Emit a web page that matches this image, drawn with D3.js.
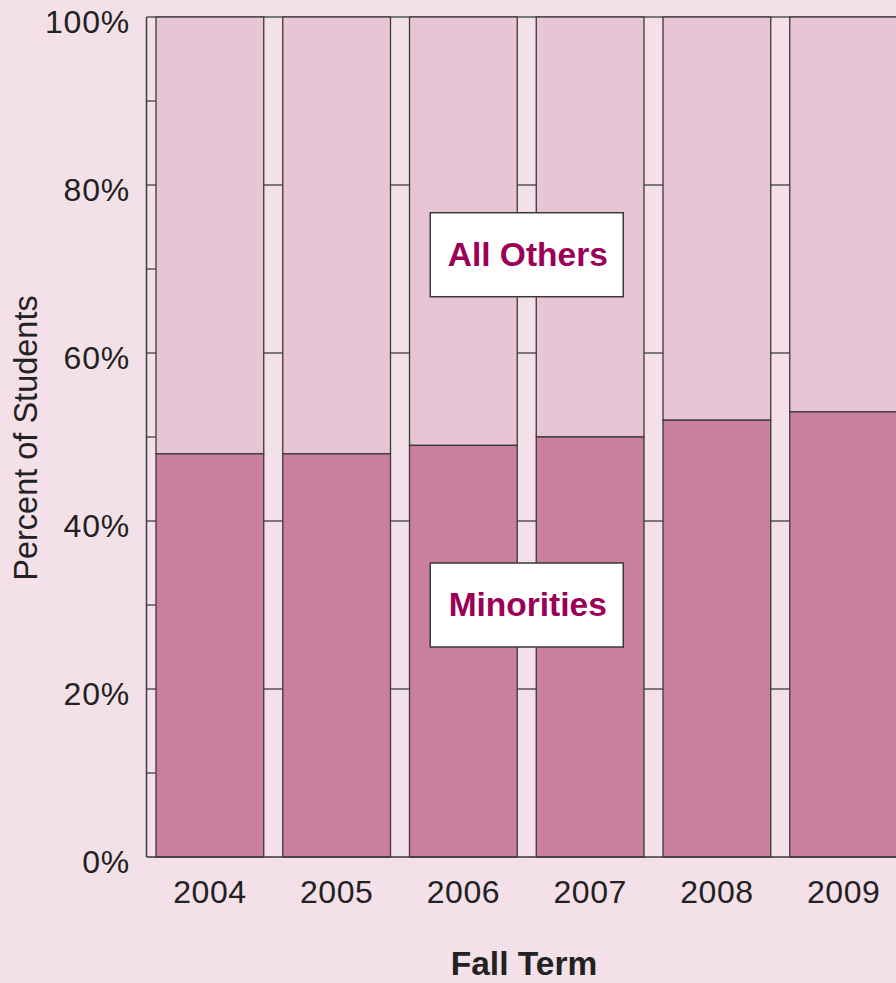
<!DOCTYPE html>
<html>
<head>
<meta charset="utf-8">
<script src="https://cdn.jsdelivr.net/npm/d3@7"></script>
<style>
  html, body { margin: 0; padding: 0; background: #F3E0E9; overflow: hidden; }
  svg { display: block; }
  text { font-family: "Liberation Sans", Arial, Helvetica, sans-serif; }
</style>
</head>
<body>
<svg id="chart" width="896" height="983"></svg>
<script>
const years = ["2004", "2005", "2006", "2007", "2008", "2009"];
const minorities = [48, 48, 49, 50, 52, 53];
const allOthers = minorities.map(v => 100 - v);
const majorTicks = [0, 20, 40, 60, 80, 100];
const minorTicks = [10, 30, 50, 70, 90];
const seriesNames = ["Minorities", "All Others"];

(function () {
const W = 896, H = 983;
const svg = d3.select("#chart");
const bg = "#F3E0E9";
const lightFill = "#E8C5D4";
const darkFill = "#C97F9D";
const lineCol = "#3a3a3a";
const labelCol = "#9B0058";

svg.append("rect").attr("width", W).attr("height", H).attr("fill", bg);

const plotLeft = 146.5, plotTop = 17, plotBottom = 857;
const x = d3.scaleBand().domain(years).range([plotLeft, 907]).paddingInner(0.15).paddingOuter(0.075);
const y = d3.scaleLinear().domain([0, 100]).range([plotBottom, plotTop]);

// gridlines (behind bars)
svg.append("g").selectAll("line").data(majorTicks.filter(d => d > 0)).join("line")
  .attr("x1", plotLeft).attr("x2", W + 20)
  .attr("y1", d => y(d)).attr("y2", d => y(d))
  .attr("stroke", "#555").attr("stroke-width", 1.5);

// minor ticks on the axis
svg.append("g").selectAll("line").data(minorTicks).join("line")
  .attr("x1", plotLeft).attr("x2", plotLeft + 9)
  .attr("y1", d => y(d)).attr("y2", d => y(d))
  .attr("stroke", "#555").attr("stroke-width", 1.5);

const data = years.map((yr, i) => ({ yr, m: minorities[i], o: allOthers[i] }));

const bars = svg.append("g");
bars.selectAll("rect.o").data(data).join("rect").attr("class", "o")
  .attr("x", d => x(d.yr)).attr("width", x.bandwidth())
  .attr("y", d => y(d.m + d.o)).attr("height", d => y(d.m) - y(d.m + d.o))
  .attr("fill", lightFill).attr("stroke", lineCol).attr("stroke-width", 1.3);
bars.selectAll("rect.m").data(data).join("rect").attr("class", "m")
  .attr("x", d => x(d.yr)).attr("width", x.bandwidth())
  .attr("y", d => y(d.m)).attr("height", d => y(0) - y(d.m))
  .attr("fill", darkFill).attr("stroke", lineCol).attr("stroke-width", 1.3);

// axis lines
svg.append("line").attr("x1", plotLeft).attr("x2", plotLeft).attr("y1", plotTop).attr("y2", plotBottom)
  .attr("stroke", lineCol).attr("stroke-width", 1.5);
svg.append("line").attr("x1", plotLeft).attr("x2", W + 20).attr("y1", plotBottom).attr("y2", plotBottom)
  .attr("stroke", lineCol).attr("stroke-width", 1.5);

// y tick labels
svg.append("g").selectAll("text").data(majorTicks).join("text")
  .attr("x", 130).attr("y", d => y(d) + 16)
  .attr("text-anchor", "end").attr("font-size", 32).attr("letter-spacing", 0.8).attr("fill", "#222")
  .text(d => d + "%");

// x tick labels
svg.append("g").selectAll("text").data(years).join("text")
  .attr("x", d => x(d) + x.bandwidth() / 2).attr("y", 903)
  .attr("text-anchor", "middle").attr("font-size", 32).attr("letter-spacing", 0.5).attr("fill", "#222")
  .text(d => d);

// axis titles
svg.append("text").attr("transform", "translate(37,438) rotate(-90)")
  .attr("text-anchor", "middle").attr("font-size", 32.5).attr("fill", "#222")
  .text("Percent of Students");
svg.append("text").attr("x", 524).attr("y", 975)
  .attr("text-anchor", "middle").attr("font-size", 33.5).attr("font-weight", "bold").attr("fill", "#222")
  .text("Fall Term");

// series label boxes, centred on the gap between 2006 and 2007
const gapX = (x("2006") + x.bandwidth() + x("2007")) / 2;
const labelPos = [30, 71.7];
seriesNames.forEach((name, i) => {
  const cy = y(labelPos[i]);
  const g = svg.append("g");
  g.append("rect").attr("x", gapX - 96.5).attr("y", cy - 42).attr("width", 193).attr("height", 84)
    .attr("fill", "#fff").attr("stroke", lineCol).attr("stroke-width", 1.5);
  g.append("text").attr("x", gapX + 1).attr("y", cy + 11)
    .attr("text-anchor", "middle").attr("font-size", 33.5).attr("font-weight", "bold").attr("fill", labelCol)
    .text(name);
});
})();
</script>
</body>
</html>
